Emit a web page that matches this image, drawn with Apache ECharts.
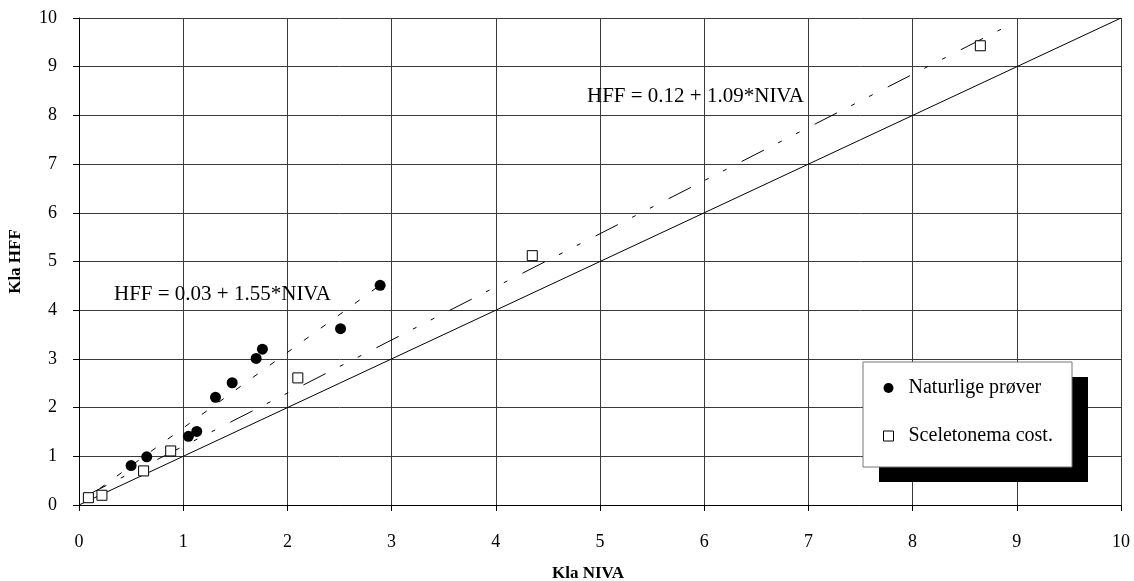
<!DOCTYPE html>
<html>
<head>
<meta charset="utf-8">
<script src="https://cdn.jsdelivr.net/npm/echarts@6/dist/echarts.min.js"></script>
<style>
html,body{margin:0;padding:0;background:#fff;}
#chart{width:1134px;height:581px;}
</style>
</head>
<body>
<div id="chart"></div>
<script>
// Data
const naturalX = [0.50, 0.65, 1.05, 1.13, 1.31, 1.47, 1.70, 1.76, 2.51, 2.89];
const naturalY = [0.81, 0.99, 1.41, 1.51, 2.21, 2.51, 3.01, 3.20, 3.62, 4.51];
const sceletX = [0.09, 0.22, 0.62, 0.88, 2.10, 4.35, 8.65];
const sceletY = [0.15, 0.20, 0.70, 1.11, 2.61, 5.12, 9.43];
const identityLine = [[0, 0], [10, 10]];
const fitNaturalLine = [[0.2, 0.34], [2.9, 4.53]];
const fitSceletLine = [[0.05, 0.17], [8.95, 9.88]];
const seriesNames = ['Naturlige prøver', 'Sceletonema cost.'];
const eqNatural = 'HFF = 0.03 + 1.55*NIVA';
const eqScelet = 'HFF = 0.12 + 1.09*NIVA';
const xTitle = 'Kla NIVA';
const yTitle = 'Kla HFF';

const FONT = '"Liberation Serif", "DejaVu Serif", serif';
const pair = (xs, ys) => xs.map((x, i) => [x, ys[i]]);

const chart = echarts.init(document.getElementById('chart'), null, {renderer: 'canvas'});
const gridColor = '#3a3a3a';
chart.setOption({
  animation: false,
  backgroundColor: '#fff',
  grid: {left: 79, right: 13, top: 18, bottom: 76, show: false, containLabel: false, outerBoundsMode: 'none'},
  xAxis: {
    type: 'value', min: 0, max: 10, interval: 1,
    name: xTitle, nameLocation: 'middle', nameGap: 60,
    nameTextStyle: {fontFamily: FONT, fontSize: 17, fontWeight: 'bold', color: '#000', padding: [0, 24, 0, 0]},
    axisLine: {show: true, onZero: false, lineStyle: {color: '#000', width: 1}},
    axisTick: {show: true, length: 6, lineStyle: {color: '#000'}},
    axisLabel: {fontFamily: FONT, fontSize: 18, color: '#000', margin: 28},
    splitLine: {show: true, lineStyle: {color: gridColor, width: 1}}
  },
  yAxis: {
    type: 'value', min: 0, max: 10, interval: 1,
    name: yTitle, nameLocation: 'middle', nameGap: 55,
    nameTextStyle: {fontFamily: FONT, fontSize: 17, fontWeight: 'bold', color: '#000'},
    axisLine: {show: true, onZero: false, lineStyle: {color: '#000', width: 1}},
    axisTick: {show: true, length: 6, lineStyle: {color: '#000'}},
    axisLabel: {fontFamily: FONT, fontSize: 18, color: '#000', margin: 22},
    splitLine: {show: true, lineStyle: {color: gridColor, width: 1}}
  },
  legend: {
    orient: 'vertical', left: 883, top: 378, padding: 0, z: 20,
    itemWidth: 10, itemHeight: 10, itemGap: 28,
    data: [
      {name: seriesNames[0], icon: 'circle'},
      {name: seriesNames[1], icon: 'rect', itemStyle: {color: '#fff', borderColor: '#000', borderWidth: 1}}
    ],
    textStyle: {fontFamily: FONT, fontSize: 20, color: '#000', lineHeight: 20, padding: [0, 0, 0, 10]}
  },
  graphic: [
    {type: 'rect', z: 15, shape: {x: 879, y: 377, width: 209, height: 105}, style: {fill: '#000'}},
    {type: 'rect', z: 16, shape: {x: 863, y: 362, width: 209, height: 105}, style: {fill: '#fff', stroke: '#777', lineWidth: 1}},
    {type: 'text', z: 16, x: 114, y: 294, style: {text: eqNatural, font: '21px ' + FONT, fill: '#000', verticalAlign: 'middle'}},
    {type: 'text', z: 16, x: 587, y: 96, style: {text: eqScelet, font: '21px ' + FONT, fill: '#000', verticalAlign: 'middle'}}
  ],
  series: [
    {type: 'line', data: identityLine, symbol: 'none', silent: true, z: 3,
     lineStyle: {color: '#000', width: 1, type: 'solid'}},
    {type: 'line', data: fitSceletLine, symbol: 'none', silent: true, z: 3,
     lineStyle: {color: '#000', width: 1, type: [25, 16, 4, 16, 4, 17]}},
    {type: 'line', data: fitNaturalLine, symbol: 'none', silent: true, z: 3,
     lineStyle: {color: '#000', width: 1, type: [6, 15]}},
    {name: seriesNames[0], type: 'scatter', data: pair(naturalX, naturalY), symbol: 'circle', symbolSize: 11, z: 5,
     itemStyle: {color: '#000', opacity: 1}},
    {name: seriesNames[1], type: 'scatter', data: pair(sceletX, sceletY), symbol: 'rect', symbolSize: 10, z: 5,
     itemStyle: {color: '#fff', borderColor: '#000', borderWidth: 1, opacity: 1}}
  ]
});
</script>
</body>
</html>
